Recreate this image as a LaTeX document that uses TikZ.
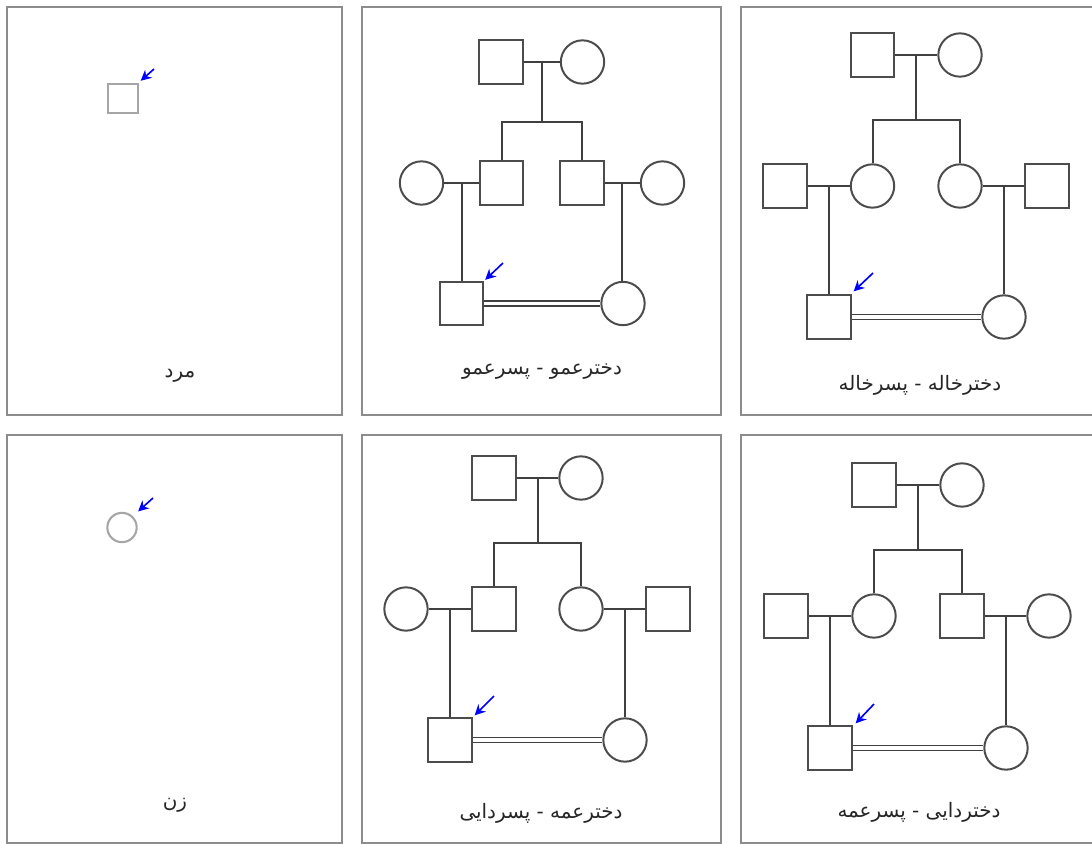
\documentclass[tikz,border=0pt]{standalone}
\usepackage{fontspec}
\newfontfamily\arabicfont[Script=Arabic]{DejaVu Sans}
\TeXXeTstate=1
\usepackage{tikz}
\usetikzlibrary{arrows.meta}
\usetikzlibrary{calc}

\tikzset{
  panel/.style={draw=black!45, line width=1.4pt},
  male/.style={rectangle, draw=black!70, line width=1.7pt, minimum size=1.3cm, inner sep=0pt},
  female/.style={circle, draw=black!70, line width=1.7pt, minimum size=1.3cm, inner sep=0pt},
  single/.style={draw=black!35, line width=1.8pt, minimum size=0.88cm},
  link/.style={draw=black!75, line width=1.7pt},
  cousins/.style={draw=black!75, line width=1.2pt},
  proband/.style={draw=blue, line width=1.4pt, -{Stealth[length=9pt,width=9pt]}},
  caption/.style={font=\arabicfont\fontsize{17}{20}\selectfont, text=black!85}
}

\begin{document}
\begin{tikzpicture}[x=0.03cm, y=-0.03cm]
  \useasboundingbox (0,0) rectangle (1092,844);
  \clip (0,0) rectangle (1092,844);
  % frames
  \draw[panel] (7,7) rectangle (342,415);
  \draw[panel] (362,7) rectangle (721,415);
  \draw[panel] (741,7) rectangle (1100,415);
  \draw[panel] (7,435) rectangle (342,843);
  \draw[panel] (362,435) rectangle (721,843);
  \draw[panel] (741,435) rectangle (1100,843);

  % man
  \node[male, single] (a1) at (123,98.5) {};
  \coordinate (p1) at (154,69);
  \draw[proband] (p1) -- ([shift={(2,-2)}]a1.north east);
  \node[caption] (t1) at (180,376) {\beginR مرد\endR};

  % woman
  \node[female, single] (a4) at (122,527.5) {};
  \coordinate (p4) at (153,498);
  \draw[proband] (p4) -- ([shift={(5,-5)}]a4.north east);
  \node[caption] (t4) at (175,805) {\beginR زن\endR};

  % cousins, brothers
  \begin{scope}[every node/.style={minimum size=1.22cm}]
    \node[male] (a2) at (501,62) {};
    \node[female] (b2) at (582.5,62) {};
    \node[female] (c2) at (421.5,183) {};
    \node[male] (d2) at (501.5,183) {};
    \node[male] (e2) at (582,183) {};
    \node[female] (f2) at (662.5,183) {};
    \node[male] (g2) at (461.5,303.5) {};
    \node[female] (h2) at (623,303.5) {};
  \end{scope}
  \coordinate (ab2) at ($(a2.east)!0.5!(b2.west)$);
  \coordinate (cd2) at ($(c2.east)!0.5!(d2.west)$);
  \coordinate (ef2) at ($(e2.east)!0.5!(f2.west)$);
  \coordinate (s2) at (ab2 |- 0,122);
  \begin{scope}[every path/.style={link}]
    \path (a2) edge (b2);
    \path (c2) edge (d2);
    \path (e2) edge (f2);
    \draw (ab2) -- (s2);
    \draw (d2.north) |- (s2) -| (e2.north);
    \draw (cd2) -- (cd2 |- g2.north);
    \draw (ef2) -- (ef2 |- h2.north);
  \end{scope}
  \draw[cousins] ([yshift=2.3]g2.east) -- ([yshift=2.3]h2.west);
  \draw[cousins] ([yshift=-2.3]g2.east) -- ([yshift=-2.3]h2.west);
  \coordinate (p2) at (503,263);
  \draw[proband] (p2) -- ([shift={(1,-1)}]g2.north east);
  \node[caption] (t2) at (542,372) {\beginR دخترعمو - پسرعمو\endR};

  % cousins, sisters
  \node[male] (a3) at (872.5,55) {};
  \node[female] (b3) at (960,55) {};
  \node[male] (c3) at (785,186) {};
  \node[female] (d3) at (872.5,186) {};
  \node[female] (e3) at (960,186) {};
  \node[male] (f3) at (1047,186) {};
  \node[male] (g3) at (829,317) {};
  \node[female] (h3) at (1004,317) {};
  \coordinate (ab3) at ($(a3.east)!0.5!(b3.west)$);
  \coordinate (cd3) at ($(c3.east)!0.5!(d3.west)$);
  \coordinate (ef3) at ($(e3.east)!0.5!(f3.west)$);
  \coordinate (s3) at (ab3 |- 0,120);
  \begin{scope}[every path/.style={link}]
    \path (a3) edge (b3);
    \path (c3) edge (d3);
    \path (e3) edge (f3);
    \draw (ab3) -- (s3);
    \draw (d3.north) |- (s3) -| (e3.north);
    \draw (cd3) -- (cd3 |- g3.north);
    \draw (ef3) -- (ef3 |- h3.north);
  \end{scope}
  \draw[cousins] ([yshift=2.3]g3.east) -- ([yshift=2.3]h3.west);
  \draw[cousins] ([yshift=-2.3]g3.east) -- ([yshift=-2.3]h3.west);
  \coordinate (p3) at (873,273);
  \draw[proband] (p3) -- ([shift={(2,-3)}]g3.north east);
  \node[caption] (t3) at (920,385) {\beginR دخترخاله - پسرخاله\endR};

  % cousins, brother and sister
  \node[male] (a5) at (494,478) {};
  \node[female] (b5) at (581,478) {};
  \node[female] (c5) at (406,609) {};
  \node[male] (d5) at (494,609) {};
  \node[female] (e5) at (581,609) {};
  \node[male] (f5) at (668,609) {};
  \node[male] (g5) at (450,740) {};
  \node[female] (h5) at (625,740) {};
  \coordinate (ab5) at ($(a5.east)!0.5!(b5.west)$);
  \coordinate (cd5) at ($(c5.east)!0.5!(d5.west)$);
  \coordinate (ef5) at ($(e5.east)!0.5!(f5.west)$);
  \coordinate (s5) at (ab5 |- 0,543);
  \begin{scope}[every path/.style={link}]
    \path (a5) edge (b5);
    \path (c5) edge (d5);
    \path (e5) edge (f5);
    \draw (ab5) -- (s5);
    \draw (d5.north) |- (s5) -| (e5.north);
    \draw (cd5) -- (cd5 |- g5.north);
    \draw (ef5) -- (ef5 |- h5.north);
  \end{scope}
  \draw[cousins] ([yshift=2.3]g5.east) -- ([yshift=2.3]h5.west);
  \draw[cousins] ([yshift=-2.3]g5.east) -- ([yshift=-2.3]h5.west);
  \coordinate (p5) at (494,696);
  \draw[proband] (p5) -- ([shift={(2,-2)}]g5.north east);
  \node[caption] (t5) at (541,813) {\beginR دخترعمه - پسردایی\endR};

  % cousins, sister and brother
  \node[male] (a6) at (874,485) {};
  \node[female] (b6) at (962,485) {};
  \node[male] (c6) at (786,616) {};
  \node[female] (d6) at (874,616) {};
  \node[male] (e6) at (962,616) {};
  \node[female] (f6) at (1049,616) {};
  \node[male] (g6) at (830,748) {};
  \node[female] (h6) at (1006,748) {};
  \coordinate (ab6) at ($(a6.east)!0.5!(b6.west)$);
  \coordinate (cd6) at ($(c6.east)!0.5!(d6.west)$);
  \coordinate (ef6) at ($(e6.east)!0.5!(f6.west)$);
  \coordinate (s6) at (ab6 |- 0,550);
  \begin{scope}[every path/.style={link}]
    \path (a6) edge (b6);
    \path (c6) edge (d6);
    \path (e6) edge (f6);
    \draw (ab6) -- (s6);
    \draw (d6.north) |- (s6) -| (e6.north);
    \draw (cd6) -- (cd6 |- g6.north);
    \draw (ef6) -- (ef6 |- h6.north);
  \end{scope}
  \draw[cousins] ([yshift=2.3]g6.east) -- ([yshift=2.3]h6.west);
  \draw[cousins] ([yshift=-2.3]g6.east) -- ([yshift=-2.3]h6.west);
  \coordinate (p6) at (874,704);
  \draw[proband] (p6) -- ([shift={(3,-2)}]g6.north east);
  \node[caption] (t6) at (919,812) {\beginR دختردایی - پسرعمه\endR};
\end{tikzpicture}
\end{document}
